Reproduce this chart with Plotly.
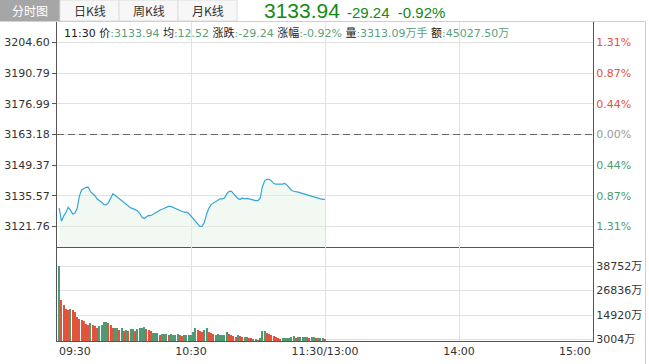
import plotly.graph_objects as go

# ---------------- data ----------------
minutes = list(range(1, 121))  # minutes after 09:30 (09:31 .. 11:30)

prices = [
    3130.0, 3124.2, 3126.5, 3128.1, 3130.4, 3129.2, 3127.4, 3127.8, 3129.8, 3135.3,
    3138.2, 3138.8, 3139.4, 3139.5, 3137.4, 3136.5, 3135.6, 3134.1, 3133.5, 3132.7,
    3131.6, 3131.5, 3132.4, 3134.2, 3136.4, 3135.8, 3135.0, 3134.3, 3133.3, 3132.6,
    3131.7, 3131.0, 3130.1, 3129.8, 3129.4, 3128.8, 3127.7, 3126.0, 3125.3, 3126.0,
    3126.7, 3126.6, 3127.2, 3127.9, 3128.7, 3129.1, 3129.5, 3129.9, 3130.4, 3130.8,
    3130.8, 3130.3, 3129.8, 3129.5, 3129.0, 3128.5, 3128.2, 3128.2, 3127.6, 3126.4,
    3125.1, 3123.8, 3122.7, 3121.8, 3121.9, 3123.6, 3127.4, 3130.0, 3131.6, 3132.3,
    3132.7, 3133.8, 3134.2, 3134.2, 3134.6, 3136.4, 3137.5, 3137.7, 3136.7, 3135.3,
    3134.4, 3133.9, 3134.6, 3134.2, 3134.4, 3134.2, 3133.9, 3133.7, 3133.4, 3133.4,
    3134.5, 3139.8, 3142.3, 3143.0, 3143.0, 3142.3, 3141.2, 3140.8, 3140.7, 3140.8,
    3140.8, 3141.1, 3140.4, 3139.2, 3138.1, 3137.6, 3137.5, 3137.2, 3136.9, 3136.6,
    3136.1, 3135.7, 3135.6, 3135.3, 3135.0, 3134.6, 3134.3, 3134.2, 3134.0, 3133.94,
]

volumes = [  # 万
    38800, 22240, 19810, 17870, 17380, 17870, 17380, 16410, 13980, 13010,
    12520, 12030, 10580, 10090, 11060, 10090, 9600, 8630, 9600, 10090,
    11550, 11550, 11060, 10090, 8630, 8630, 8630, 7660, 8630, 7170,
    7660, 7170, 8150, 8150, 7170, 8150, 8630, 8630, 9120, 8150,
    7420, 7030, 6350, 6350, 6350, 5380, 5860, 5860, 5860, 5380,
    5860, 5380, 5380, 5860, 5380, 4890, 5380, 5380, 5380, 5380,
    6830, 8780, 7810, 7170, 6540, 7810, 8780, 6830, 6060, 5860,
    5380, 5860, 5380, 5380, 5380, 6830, 5860, 5380, 4890, 4400,
    5380, 4890, 4400, 4400, 4400, 3920, 3920, 3430, 3430, 2950,
    3920, 7320, 7320, 6350, 5860, 5380, 4890, 4400, 3920, 3430,
    3920, 3920, 3920, 3920, 4400, 4890, 3920, 4400, 4400, 4400,
    4400, 4400, 3920, 4400, 4400, 3920, 3920, 3920, 3920, 3430,
]

# R = up (red), G = down (green)
vol_dir = (
    "GRRRRGRRRR" "RRRRGRRRGG" "GGRRRGGRGR" "GRGGRGGGGR"
    "RRGGGRGGGR" "GGGGRRGGGG" "GGRRRGGRRR" "GGGGGGRRRR"
    "GRRGGRRGGR" "GGGRRRRRRR" "GGGGGGRGGG" "GGRGGRGGGR"
)

prev_close = 3163.18
price_ticks = [3204.60, 3190.79, 3176.99, 3163.18, 3149.37, 3135.57, 3121.76]
pct_labels = ["1.31%", "0.87%", "0.44%", "0.00%", "0.44%", "0.87%", "1.31%"]
vol_ticks = [38752, 26836, 14920, 3004]
time_tick_vals = [60, 120, 180]
time_tick_text = ["10:30", "11:30/13:00", "14:00"]
tabs = ["分时图", "日K线", "周K线", "月K线"]

# ---------------- styling ----------------
FONT = "DejaVu Sans, Noto Sans CJK SC, sans-serif"
RED = "#e2533c"
GREEN = "#4f9a72"
GRID = "#e2e2e2"
AXIS = "#555555"
W, H = 649, 364
L, R, T, B = 57, 56, 22, 23


def px(X):
    return (X - L) / (W - L - R)


def py(Y):
    return (H - B - Y) / (H - T - B)


split = py(247)

fig = go.Figure()

fig.add_trace(go.Scatter(
    x=minutes, y=prices, mode="lines",
    line=dict(color="#33a6d9", width=1.2),
    fill="tozeroy", fillcolor="rgba(226,242,229,0.45)",
    xaxis="x", yaxis="y", hoverinfo="skip", showlegend=False,
))

bar_colors = [RED if d == "R" else GREEN for d in vol_dir]
fig.add_trace(go.Bar(
    x=minutes, y=volumes, width=0.5,
    marker=dict(color=bar_colors, line=dict(width=0)),
    xaxis="x2", yaxis="y2", hoverinfo="skip", showlegend=False,
))

pct_colors = [RED, RED, RED, "#999999", GREEN, GREEN, GREEN]
pct_text = [f'<span style="color:{c}">{t}</span>' for c, t in zip(pct_colors, pct_labels)]
prange = [2 * prev_close - 3213.85, 3213.85]

fig.update_layout(
    width=W, height=H,
    margin=dict(l=L, r=R, t=T, b=B, autoexpand=False),
    paper_bgcolor="white", plot_bgcolor="white",
    font=dict(family=FONT, size=11, color="#333333"),
    bargap=0,
    xaxis=dict(domain=[0, 1], range=[0, 240], anchor="y", automargin=False,
               tickvals=time_tick_vals, showticklabels=False, ticks="",
               showgrid=True, gridcolor=GRID, zeroline=False,
               showline=True, linecolor=AXIS, linewidth=1),
    xaxis2=dict(domain=[0, 1], range=[0, 240], anchor="y2", automargin=False,
                tickvals=time_tick_vals, ticktext=time_tick_text, ticks="",
                tickfont=dict(size=11, color="#333333"),
                showgrid=True, gridcolor=GRID, zeroline=False,
                showline=True, linecolor=AXIS, linewidth=1),
    yaxis=dict(domain=[split, 1], range=prange, anchor="x", automargin=False,
               tickvals=price_ticks, ticktext=[f"{v:.2f}" for v in price_ticks],
               ticks="outside", ticklen=4, tickcolor=AXIS,
               tickfont=dict(size=11, color="#333333"),
               showgrid=True, gridcolor=GRID, zeroline=False,
               showline=True, linecolor=AXIS, linewidth=1),
    yaxis3=dict(overlaying="y", side="right", range=prange, anchor="x", automargin=False,
                tickvals=price_ticks, ticktext=pct_text, ticks="",
                tickfont=dict(size=11),
                showgrid=False, zeroline=False,
                showline=True, linecolor=AXIS, linewidth=1),
    yaxis2=dict(domain=[0, split], range=[2300, 47990], anchor="x2", side="right",
                automargin=False,
                tickvals=vol_ticks, ticktext=[f"{v}万" for v in vol_ticks], ticks="",
                tickfont=dict(size=11, color="#333333"),
                showgrid=True, gridcolor=GRID, zeroline=False,
                showline=True, mirror=True, linecolor=AXIS, linewidth=1),
)

# dummy trace so yaxis3 is drawn
fig.add_trace(go.Scatter(x=[None], y=[None], xaxis="x", yaxis="y3",
                         showlegend=False, hoverinfo="skip"))

shapes = []
# dashed previous close line
shapes.append(dict(type="line", xref="x domain", yref="y", x0=0, x1=1,
                   y0=prev_close, y1=prev_close,
                   line=dict(color="#666666", width=1, dash="7px,4px")))
# frame: top border and right border
shapes.append(dict(type="line", xref="paper", yref="paper",
                   x0=px(57), x1=px(645.5), y0=py(21.5), y1=py(21.5),
                   line=dict(color="#cfcfcf", width=1)))
shapes.append(dict(type="line", xref="paper", yref="paper",
                   x0=px(645.5), x1=px(645.5), y0=py(21.5), y1=py(364),
                   line=dict(color="#cfcfcf", width=1)))
# tabs
tab_edges = [0, 60, 119, 178, 237]
for i in range(4):
    shapes.append(dict(type="rect", xref="paper", yref="paper",
                       x0=px(tab_edges[i]), x1=px(tab_edges[i + 1]),
                       y0=py(21), y1=py(0),
                       fillcolor="#a6a6a6" if i == 0 else "#f7f7f7",
                       line=dict(color="#a6a6a6" if i == 0 else "#dedede", width=1),
                       layer="below"))
fig.update_layout(shapes=shapes)

ann = []
for i, t in enumerate(tabs):
    ann.append(dict(text=t, xref="paper", yref="paper",
                    x=px((tab_edges[i] + tab_edges[i + 1]) / 2), y=py(10.5),
                    xanchor="center", yanchor="middle", showarrow=False,
                    font=dict(family="Noto Sans CJK SC, DejaVu Sans", size=12,
                              color="white" if i == 0 else "#333333")))

ann.append(dict(text="3133.94", xref="paper", yref="paper", x=px(262), y=py(11),
                xanchor="left", yanchor="middle", showarrow=False,
                font=dict(family="Liberation Sans, Arial", size=21, color="#138a13")))
ann.append(dict(text="-29.24  -0.92%", xref="paper", yref="paper", x=px(345), y=py(12),
                xanchor="left", yanchor="middle", showarrow=False,
                font=dict(family="Liberation Sans, Arial", size=15, color="#138a13")))

VC = "#5a9f7c"
info = ("11:30 价<span style='color:%s'>:3133.94</span> 均<span style='color:%s'>:12.52</span> "
        "涨跌<span style='color:%s'>:-29.24</span> 涨幅<span style='color:%s'>:-0.92%%</span> "
        "量<span style='color:%s'>:3313.09万手</span> 额<span style='color:%s'>:45027.50万</span>") % ((VC,) * 6)
ann.append(dict(text=info, xref="paper", yref="paper", x=px(62), y=py(33),
                xanchor="left", yanchor="middle", showarrow=False,
                font=dict(family=FONT, size=11, color="#222222")))

ann.append(dict(text="09:30", xref="x2", yref="paper", x=0, y=py(351),
                xanchor="left", yanchor="middle", showarrow=False,
                font=dict(family=FONT, size=11, color="#333333")))
ann.append(dict(text="15:00", xref="x2", yref="paper", x=240, y=py(351),
                xanchor="right", yanchor="middle", showarrow=False,
                font=dict(family=FONT, size=11, color="#333333")))
fig.update_layout(annotations=ann)

fig.write_html("out.html",
               config={"displayModeBar": False},
               post_script="document.body.style.margin='0';document.body.style.padding='0';")
